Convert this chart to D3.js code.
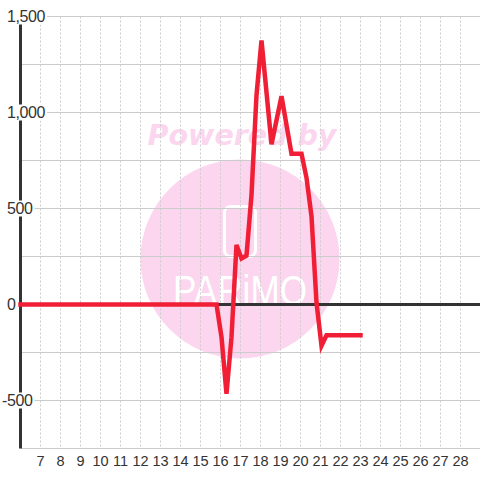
<!DOCTYPE html>
<html>
<head>
<meta charset="utf-8">
<script src="https://cdn.jsdelivr.net/npm/d3@7/dist/d3.min.js"></script>
<style>
html, body { margin: 0; padding: 0; background: #fff; }
svg { display: block; }
text { font-family: "Liberation Sans", sans-serif; fill: #333; }
</style>
</head>
<body>
<svg id="chart" width="480" height="480"></svg>
<script>
const xTicks = d3.range(7, 29);
const yMajor = [-500, 0, 500, 1000, 1500];
const yLabels = ['-500', '0', '500', '1,000', '1,500'];
const yGrid = [-750, -500, -250, 250, 500, 750, 1000, 1250, 1500];
const seriesX = [6, 15.8, 16.05, 16.3, 16.55, 16.8, 17.05, 17.3, 17.55, 17.8, 18.05, 18.55, 19.05, 19.55, 20.05, 20.3, 20.55, 20.8, 21.05, 21.3, 23];
const seriesY = [0, 0, -170, -465, -170, 310, 240, 255, 570, 1090, 1375, 835, 1085, 785, 785, 660, 460, 10, -215, -160, -160];

const svg = d3.select('#chart');
const x = d3.scaleLinear().domain([6, 29]).range([20.5, 480.5]);
const y = d3.scaleLinear().domain([-750, 1500]).range([448.5, 16.5]);

// watermark sits under the grid
svg.append('circle').attr('cx', 240).attr('cy', 259).attr('r', 99.5).attr('fill', '#fbd6ee');
svg.append('text').attr('x', 242).attr('y', 145).attr('text-anchor', 'middle')
  .style('font-family', '"DejaVu Sans"').style('font-weight', 'bold').style('font-style', 'italic')
  .style('font-size', '28.5px').style('fill', '#fbd6ee').text('Powered by');
svg.append('rect').attr('x', 224.5).attr('y', 206.5).attr('width', 31).attr('height', 50).attr('rx', 6)
  .attr('fill', 'none').attr('stroke', '#fff').attr('stroke-width', 3);
svg.append('text').attr('x', 173).attr('y', 305)
  .attr('textLength', 134).attr('lengthAdjust', 'spacingAndGlyphs')
  .style('font-size', '43px').style('fill', '#fff').text('PARiMO');

svg.append('g').selectAll('line').data(xTicks).join('line')
  .attr('x1', d => x(d)).attr('x2', d => x(d)).attr('y1', y(1500)).attr('y2', y(-750))
  .attr('stroke', '#ccc').attr('stroke-dasharray', '2 2');
svg.append('g').selectAll('line').data(yGrid).join('line')
  .attr('x1', x(6)).attr('x2', 480).attr('y1', d => y(d)).attr('y2', d => y(d))
  .attr('stroke', '#ccc');

svg.append('line').attr('x1', x(6)).attr('x2', 480).attr('y1', y(0)).attr('y2', y(0))
  .attr('stroke', '#333').attr('stroke-width', 3);
svg.append('line').attr('x1', x(6)).attr('x2', x(6)).attr('y1', y(1500)).attr('y2', y(-750))
  .attr('stroke', '#333').attr('stroke-width', 3);

const line = d3.line().x(d => x(d[0])).y(d => y(d[1]));
svg.append('path').datum(seriesX.map((d, i) => [d, seriesY[i]])).attr('d', line)
  .attr('fill', 'none').attr('stroke', '#f01f35').attr('stroke-width', 4.5)
  .attr('stroke-linejoin', 'miter').attr('stroke-linecap', 'square');

// labels carry a white box that cuts the axis and the grid
const labels = svg.append('g').selectAll('g').data(yMajor).join('g')
  .attr('transform', d => `translate(${d < 0 ? 2 : 7},${y(d)})`);
labels.append('rect').attr('y', -8).attr('height', 16).attr('fill', '#fff');
labels.append('text').attr('y', 5.5).style('font-size', '16px').style('letter-spacing', '-0.4px')
  .text((d, i) => yLabels[i]);
labels.each(function () {
  const g = d3.select(this);
  g.select('rect').attr('width', g.select('text').node().getComputedTextLength() + 2);
});

svg.append('g').selectAll('text').data(xTicks).join('text')
  .attr('x', d => x(d)).attr('y', 466).attr('text-anchor', 'middle')
  .style('font-size', '14.5px').text(d => d);
</script>
</body>
</html>
